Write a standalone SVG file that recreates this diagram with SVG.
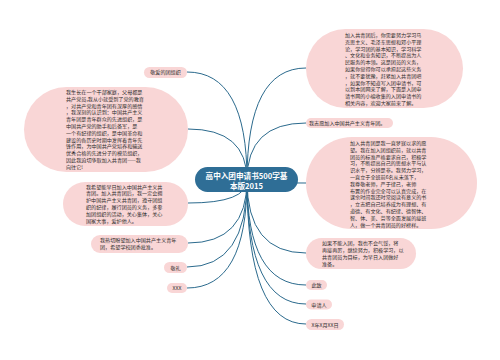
<svg xmlns="http://www.w3.org/2000/svg" width="500" height="360" viewBox="0 0 500 360">
<style>
.n{fill:#f9d6d6;}
.t{font-family:"Noto Sans CJK SC","Noto Sans",sans-serif;font-size:5.1px;fill:#2b2b2b;}
.c{text-anchor:middle;}
.e{fill:none;stroke:#2b6a8d;stroke-width:1;}
.root{fill:#2f6e96;}
.rt{font-family:"Noto Sans CJK SC","Noto Sans",sans-serif;font-size:7.6px;font-weight:bold;fill:#fff;text-anchor:middle;}
</style>
<rect width="500" height="360" fill="#fff"/>
<g id="connectors">
<path class="e" d="M247 180 Q247 72 187 72"/>
<path class="e" d="M247 180 Q247 129 188 129"/>
<path class="e" d="M247 180 Q247 203 188 203"/>
<path class="e" d="M247 180 Q247 243 188 243"/>
<path class="e" d="M247 180 Q247 267 187 267"/>
<path class="e" d="M247 180 Q247 288 187 288"/>
<path class="e" d="M247 180 Q247 68 306 68"/>
<path class="e" d="M247 180 Q247 123 306 123"/>
<path class="e" d="M247 180 Q247 183 306 183"/>
<path class="e" d="M247 180 Q247 253 306 253"/>
<path class="e" d="M247 180 Q247 285 306 285"/>
<path class="e" d="M247 180 Q247 304 306 304"/>
<path class="e" d="M247 180 Q247 324 306 324"/>
</g>
<g id="root">
<rect class="root" x="195" y="167" width="103" height="25" rx="12.5"/>
<text class="rt" x="246.5" y="179">高中入团申请书500字基</text>
<text class="rt" x="246.5" y="188.5">本版2015</text>
</g>
<g id="n1">
<rect class="n" x="144" y="67" width="43" height="11" rx="5.5"/>
<text class="t c" x="165.5" y="74.3">敬爱的团组织</text>
</g>
<g id="n2">
<rect class="n" x="24" y="87" width="164" height="85" rx="42.5"/>
<text class="t" x="66" y="94"><tspan x="66">我生长在一个干部家庭，父母都是</tspan><tspan x="66" dy="6.8">共产党员,我从小就受到了党的教育</tspan><tspan x="66" dy="6.8">，对共产党和青年团有深厚的感情</tspan><tspan x="66" dy="6.8">，我深刻的认识到：中国共产主义</tspan><tspan x="66" dy="6.8">青年团是青年群众的先进组织，是</tspan><tspan x="66" dy="6.8">中国共产党的助手和后备军，是</tspan><tspan x="66" dy="6.8">一个有纪律的组织，是中国革命和</tspan><tspan x="66" dy="6.8">建设的各历史时期中发挥着青年先</tspan><tspan x="66" dy="6.8">锋作用，为中国共产党培养和输送</tspan><tspan x="66" dy="6.8">优秀合格的先进分子的模范组织，</tspan><tspan x="66" dy="6.8">因此我迫切争取加入共青团——我</tspan><tspan x="66" dy="6.8">向往它!</tspan></text>
</g>
<g id="n3">
<rect class="n" x="63" y="182" width="125" height="44" rx="22"/>
<text class="t" x="86" y="188.5"><tspan x="86">我希望能早日加入中国共产主义共</tspan><tspan x="86" dy="6.8">青团。加入共青团后，我一定会拥</tspan><tspan x="86" dy="6.8">护中国共产主义共青团，遵守团组</tspan><tspan x="86" dy="6.8">织的纪律，履行团员的义务，多参</tspan><tspan x="86" dy="6.8">加团组织的活动，关心集体，关心</tspan><tspan x="86" dy="6.8">国家大事，爱护他人。</tspan></text>
</g>
<g id="n4">
<rect class="n" x="91" y="235" width="97" height="18" rx="9"/>
<text class="t" x="100" y="242"><tspan x="100">我热切盼望加入中国共产主义青年</tspan><tspan x="100" dy="6.8">团，希望学校团委批准。</tspan></text>
</g>
<g id="n5">
<rect class="n" x="164" y="262" width="23" height="11" rx="5.5"/>
<text class="t c" x="175.5" y="269.5">敬礼</text>
</g>
<g id="n6">
<rect class="n" x="167" y="283" width="20" height="10" rx="5"/>
<text class="t c" x="177" y="290">XXX</text>
</g>
<g id="n7">
<rect class="n" x="306" y="29" width="157" height="79" rx="39.5"/>
<text class="t" x="345" y="37"><tspan x="345">加入共青团后，你需要努力学习马</tspan><tspan x="345" dy="6.8">克思主义、毛泽东思想和邓小平理</tspan><tspan x="345" dy="6.8">论，学习团的基本知识，学习科学</tspan><tspan x="345" dy="6.8">、文化和业务知识，不断提高为人</tspan><tspan x="345" dy="6.8">民服务的本领。这是团员的义务，</tspan><tspan x="345" dy="6.8">如果你觉得你可以承担起这些义务</tspan><tspan x="345" dy="6.8">，就不要犹豫，赶紧加入共青团吧</tspan><tspan x="345" dy="6.8">，如果你不知道写入团申请书，可</tspan><tspan x="345" dy="6.8">以到本团网来了解，下面是入团申</tspan><tspan x="345" dy="6.8">请书网的小编收集的入团申请书的</tspan><tspan x="345" dy="6.8">相关内容，欢迎大家前来了解。</tspan></text>
</g>
<g id="n8">
<rect class="n" x="306" y="118" width="87" height="10" rx="5"/>
<text class="t" x="309" y="125">我志愿加入中国共产主义青年团。</text>
</g>
<g id="n9">
<rect class="n" x="306" y="137" width="171" height="92" rx="46"/>
<text class="t" x="350" y="145"><tspan x="350">加入共青团是我一直梦寐以求的愿</tspan><tspan x="350" dy="6.8">望。我在加入团组织前，就以共青</tspan><tspan x="350" dy="6.8">团员的标准严格要求自己，积极学</tspan><tspan x="350" dy="6.8">习，不断提高自己的思想水平与认</tspan><tspan x="350" dy="6.8">识水平，分辨是非。我努力学习，</tspan><tspan x="350" dy="6.8">一直立于全班前6名从未落下，</tspan><tspan x="350" dy="6.8">我尊敬老师，严于律己，老师</tspan><tspan x="350" dy="6.8">布置的作业完全可以认真完成，在</tspan><tspan x="350" dy="6.8">课余时间我还时常阅读有意义的书</tspan><tspan x="350" dy="6.8">，立志把自己培养成为有理想、有</tspan><tspan x="350" dy="6.8">道德、有文化、有纪律、德智体、</tspan><tspan x="350" dy="6.8">智、体、美、劳等全面发展的接班</tspan><tspan x="350" dy="6.8">人，做一个共青团员的好榜样。</tspan></text>
</g>
<g id="n10">
<rect class="n" x="306" y="238" width="110" height="31" rx="15.5"/>
<text class="t" x="322" y="245"><tspan x="322">如果不能入团，我也不会气馁，将</tspan><tspan x="322" dy="7">再接再厉，继续努力，积极学习，以</tspan><tspan x="322" dy="7">共青团员为目标，为早日入团做好</tspan><tspan x="322" dy="7">准备。</tspan></text>
</g>
<g id="n11">
<rect class="n" x="306" y="280" width="21" height="10" rx="5"/>
<text class="t c" x="316.5" y="287">此致</text>
</g>
<g id="n12">
<rect class="n" x="306" y="299.5" width="26" height="10" rx="5"/>
<text class="t c" x="319" y="306.5">申请人</text>
</g>
<g id="n13">
<rect class="n" x="306" y="319" width="38" height="11" rx="5.5"/>
<text class="t c" x="325" y="326.5">X年X月XX日</text>
</g>
</svg>
